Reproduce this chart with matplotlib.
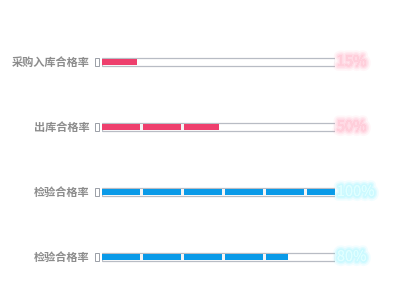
import matplotlib
matplotlib.use("Agg")
import matplotlib.pyplot as plt
import matplotlib.patheffects as pe
from matplotlib.patches import Rectangle

plt.rcParams['font.family'] = ['Noto Sans CJK SC', 'DejaVu Sans']

categories = ['采购入库合格率', '出库合格率', '检验合格率', '检验合格率']
values = [15, 50, 100, 80]
value_labels = ['15%', '50%', '100%', '80%']
bar_colors = ['#ee3f6d', '#ee3f6d', '#0a9ae8', '#0a9ae8']
text_colors = ['#ffd0dc', '#ffd0dc', '#e2ffff', '#e2ffff']
glow_colors = ['#ff8fb0', '#ff8fb0', '#5ef0ff', '#5ef0ff']

fig = plt.figure(figsize=(4, 3), dpi=100)
ax = fig.add_axes([0.255, 0.0, 0.5825, 1.0])
ax.set_xlim(0, 100)
ax.set_ylim(238 / 65, -62 / 65)
ax.axis('off')

h = 0.11
seg = 17.6
gap = 1.4
for i, (cat, v) in enumerate(zip(categories, values)):
    # background track
    ax.barh(i, 100, height=h, color='white', edgecolor='#b8bcc4', linewidth=0.9, zorder=1)
    # fill
    ax.barh(i, v, height=h * 0.86, color=bar_colors[i], linewidth=0, zorder=2)
    # separators
    s = seg
    while s < v:
        ax.barh(i, gap, left=s - gap, height=h * 0.9, color='#f4f4f4', linewidth=0, zorder=3)
        s += seg
    # small bracket marker
    ax.add_patch(Rectangle((-2.9, i - h / 2), 1.4, h, fill=False, edgecolor='#9a9ea6',
                           linewidth=0.7, clip_on=False, zorder=3))
    # category label
    ax.text(-5.3, i, cat, ha='right', va='center', fontsize=8, color='#8c8c8c',
            fontweight='bold', clip_on=False)
    # value label with glow
    ax.text(100.8, i, value_labels[i], ha='left', va='center', fontsize=10.5,
            color=text_colors[i], clip_on=False,
            path_effects=[pe.withStroke(linewidth=7, foreground=glow_colors[i], alpha=0.08),
                          pe.withStroke(linewidth=4.5, foreground=glow_colors[i], alpha=0.12),
                          pe.withStroke(linewidth=2.5, foreground=glow_colors[i], alpha=0.15),
                          pe.Normal()])

fig.savefig('out.png', dpi=100, facecolor='white')
